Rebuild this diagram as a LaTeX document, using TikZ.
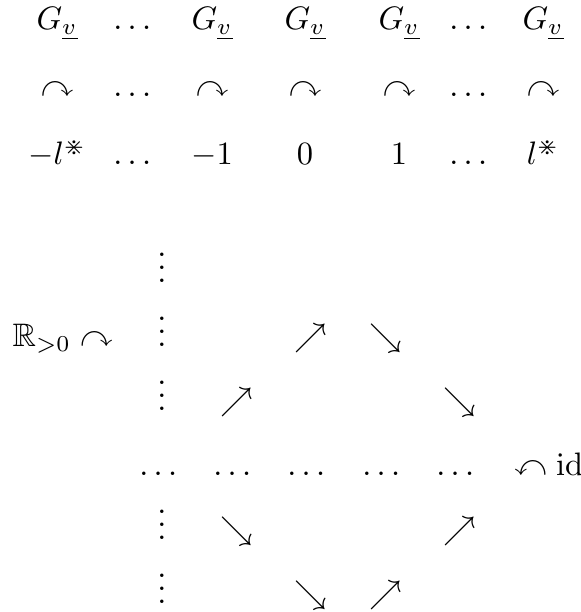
\documentclass[tikz,border=0pt]{standalone}
\usepackage{amsmath,amssymb}
\usetikzlibrary{positioning}
\tikzset{
  cell/.style={anchor=base, inner sep=0pt},
  lcell/.style={anchor=base west, inner sep=0pt},
}

\begin{document}
\begin{tikzpicture}[x=0.3077pt, y=-0.3077pt]
\useasboundingbox (0,0) rectangle (580,612);
% the groups
\node[cell] (g1) at ( 57,30) {$G_{\underline{v}}$};
\node[cell] (g2) at (135,30) {$\dots$};
\node[cell] (g3) at (212,30) {$G_{\underline{v}}$};
\node[cell] (g4) at (305,30) {$G_{\underline{v}}$};
\node[cell] (g5) at (399,30) {$G_{\underline{v}}$};
\node[cell] (g6) at (471,30) {$\dots$};
\node[cell] (g7) at (543,30) {$G_{\underline{v}}$};
% the actions
\node[cell] (a1) at ( 57,97) {$\curvearrowright$};
\node[cell] (a2) at (135,97) {$\dots$};
\node[cell] (a3) at (212,97) {$\curvearrowright$};
\node[cell] (a4) at (305,97) {$\curvearrowright$};
\node[cell] (a5) at (399,97) {$\curvearrowright$};
\node[cell] (a6) at (471,97) {$\dots$};
\node[cell] (a7) at (543,97) {$\curvearrowright$};
% the levels
\node[cell] (l1) at ( 57,165) {$-l^{\divideontimes}$};
\node[cell] (l2) at (135,165) {$\dots$};
\node[cell] (l3) at (212,165) {$-1$};
\node[cell] (l4) at (305,165) {$0$};
\node[cell] (l5) at (399,165) {$1$};
\node[cell] (l6) at (471,165) {$\dots$};
\node[cell] (l7) at (543,165) {$l^{\divideontimes}$};
% the flow
\node[cell] (v1) at (162,283) {$\vdots$};
\node[cell] (v2) at (162,347) {$\vdots$};
\node[lcell] (rpos) at (12,347) {$\mathbb{R}_{>0}\curvearrowright$};
\node[cell] (ne1) at (311,347) {$\nearrow$};
\node[cell] (se1) at (386,347) {$\searrow$};
\node[cell] (v3) at (162,411) {$\vdots$};
\node[cell] (ne2) at (237,411) {$\nearrow$};
\node[cell] (se2) at (460,411) {$\searrow$};
\node[cell] (d1) at (161,475) {$\dots$};
\node[cell] (d2) at (235,475) {$\dots$};
\node[cell] (d3) at (309,475) {$\dots$};
\node[cell] (d4) at (384,475) {$\dots$};
\node[cell] (d5) at (458,475) {$\dots$};
\node[lcell] (idact) at (514,475) {$\curvearrowleft\mathrm{id}$};
\node[cell] (v4) at (162,539) {$\vdots$};
\node[cell] (se3) at (237,539) {$\searrow$};
\node[cell] (ne3) at (460,539) {$\nearrow$};
\node[cell] (v5) at (162,603) {$\vdots$};
\node[cell] (se4) at (311,603) {$\searrow$};
\node[cell] (ne4) at (386,603) {$\nearrow$};
\end{tikzpicture}
\end{document}
